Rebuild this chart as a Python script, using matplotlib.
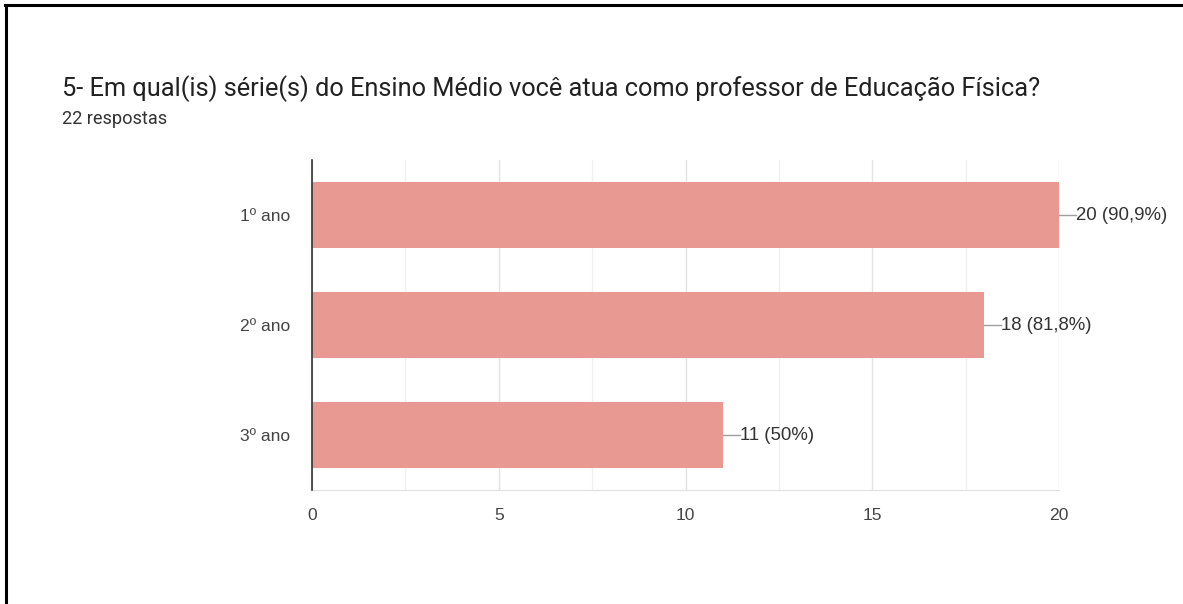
import matplotlib.pyplot as plt
from matplotlib.lines import Line2D

TITLE = "5- Em qual(is) série(s) do Ensino Médio você atua como professor de Educação Física?"
SUBTITLE = "22 respostas"
categories = ["1º ano", "2º ano", "3º ano"]
counts = [20, 18, 11]
labels = ["20 (90,9%)", "18 (81,8%)", "11 (50%)"]

BAR_COLOR = "#e89a92"
ARIAL = ["Liberation Sans", "DejaVu Sans"]

plt.rcParams["font.family"] = ["Roboto", "DejaVu Sans"]

fig = plt.figure(figsize=(11.83, 6.04), dpi=100)
fig.patch.set_facecolor("white")

# frame at top and left, like the screenshot
fig.add_artist(Line2D([0.0045, 1.0], [0.9925, 0.9925], color="black", lw=2.2))
fig.add_artist(Line2D([0.0050, 0.0050], [0.0, 0.9925], color="black", lw=2.2))

fig.text(62 / 1183, 1 - 89 / 604, TITLE, fontsize=18.3, color="#212121", va="center")
fig.text(62 / 1183, 1 - 119 / 604, SUBTITLE, fontsize=13.1, color="#333333", va="center")

ax = fig.add_axes([312 / 1183, 1 - 490 / 604, 747 / 1183, 330 / 604])

y = list(range(len(categories)))
ax.barh(y, counts, height=0.6, color=BAR_COLOR, zorder=2)

for i, (v, lab) in enumerate(zip(counts, labels)):
    ax.plot([v, v + 0.45], [i, i], color="#9e9e9e", lw=1, zorder=3,
            clip_on=False)
    ax.text(v + 0.45, i, lab, va="center", ha="left", fontsize=13.4,
            color="#333333", family=ARIAL)

ax.set_xlim(0, 20)
ax.set_ylim(2.5, -0.5)
ax.set_yticks(y)
ax.set_yticklabels(categories, family=ARIAL)
ax.set_xticks([0, 5, 10, 15, 20])
ax.set_xticklabels(["0", "5", "10", "15", "20"], family=ARIAL)
ax.set_xticks([2.5, 7.5, 12.5, 17.5], minor=True)

ax.grid(axis="x", which="major", color="#e4e4e4", lw=1, zorder=0)
ax.grid(axis="x", which="minor", color="#f0f0f0", lw=1, zorder=0)

for s in ["top", "right"]:
    ax.spines[s].set_visible(False)
ax.spines["bottom"].set_color("#e0e0e0")
ax.spines["left"].set_color("#333333")
ax.spines["left"].set_linewidth(1.2)
ax.spines["left"].set_zorder(4)

ax.tick_params(axis="both", which="both", length=0, labelsize=12.6,
               colors="#444444")
ax.tick_params(axis="x", pad=13)
ax.tick_params(axis="y", pad=16)

fig.savefig("out.png", dpi=100)
